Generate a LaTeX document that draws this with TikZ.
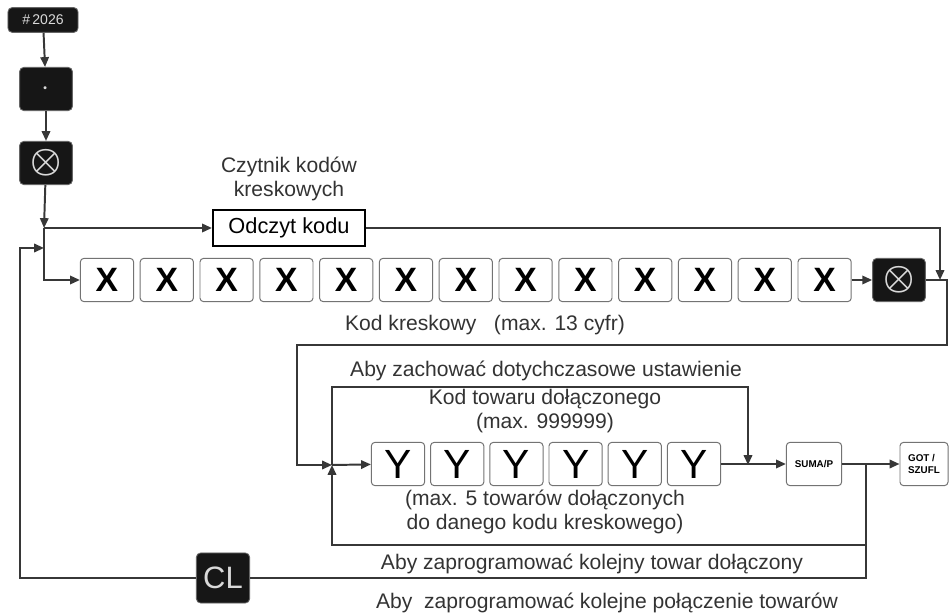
\documentclass[tikz,border=0pt]{standalone}
\usepackage{amsmath}
\usepackage{fontspec}
\setmainfont{Liberation Sans}
\usetikzlibrary{positioning, arrows.meta}
\definecolor{keyblack}{RGB}{22, 22, 22}
\definecolor{wiregray}{RGB}{55, 55, 55}
\tikzset{
  % black key of the keyboard
  key/.style={
    rectangle, rounded corners=3pt,
    minimum width=1.32cm, minimum height=1.08cm,
    fill=keyblack, draw=black!60, line width=0.6pt,
    text=white!85!black, inner sep=0pt
  },
  % white digit / function key
  digit/.style={
    rectangle, rounded corners=2.5pt,
    minimum width=1.33cm, minimum height=1.08cm,
    fill=white, draw=black!55, line width=0.7pt, inner sep=0pt
  },
  % plain text
  lbl/.style={font=\fontsize{15}{17}\selectfont, text=black!80, align=center, inner sep=0pt},
  % lines and arrows
  wire/.style={line width=1.4pt, draw=wiregray},
  arr/.style={wire, -{Triangle[length=7pt, width=6pt]}},
}

\begin{document}
\begin{tikzpicture}[x=0.025cm, y=-0.025cm]
  \useasboundingbox (0,0) rectangle (949,615);

  % entry keys
  \node[key, minimum width=1.75cm, minimum height=0.62cm,
        font=\fontsize{10}{10}\selectfont] (n2026) at (43,20) {\#\,2026};
  \node[key, font=\fontsize{20}{20}\selectfont] (kdot) at (46,89) {$\cdot$};
  \node[key, font=\fontsize{24}{24}\selectfont] (kx1) at (46,163) {$\boldsymbol{\otimes}$};

  % barcode reader
  \node[rectangle, draw=black, line width=1.5pt, minimum width=3.8cm,
        minimum height=0.92cm, font=\fontsize{15.5}{18}\selectfont] (odczyt) at (289,228) {Odczyt kodu};
  \node[lbl] (czytnik) at (289,179) {Czytnik kodów\\kreskowych};

  % barcode digits
  \node[digit, font=\fontsize{24}{24}\selectfont\bfseries] (x1) at (107,280) {X};
  \foreach \i [remember=\i as \j (initially 1)] in {2,...,13}
    \node[digit, font=\fontsize{24}{24}\selectfont\bfseries, right=0.14cm of x\j] (x\i) {X};
  \node[key, font=\fontsize{24}{24}\selectfont] (kx2) at (899,280) {$\boldsymbol{\otimes}$};
  \node[lbl] (kodkr) at (485,325) {Kod kreskowy\ \ \ (max. 13 cyfr)};

  % linked goods digits
  \node[digit, font=\fontsize{29}{29}\selectfont] (y1) at (398,464) {Y};
  \foreach \i [remember=\i as \j (initially 1)] in {2,...,6}
    \node[digit, font=\fontsize{29}{29}\selectfont, right=0.125cm of y\j] (y\i) {Y};
  \node[digit, minimum width=1.38cm, font=\fontsize{7}{8}\selectfont\bfseries] (suma) at (814,464) {SUMA/P};
  \node[digit, minimum width=1.2cm, font=\fontsize{7}{8}\selectfont\bfseries,
        align=left] (got) at (924,464) {GOT /\\SZUFL};

  \node[lbl] (zachowac) at (546,371) {Aby zachować dotychczasowe ustawienie};
  \node[lbl] (kodtow) at (545,411) {Kod towaru dołączonego\\(max. 999999)};
  \node[lbl] (max5) at (545,512) {(max. 5 towarów dołączonych\\do danego kodu kreskowego)};
  \node[lbl] (kolejny) at (592,564) {Aby zaprogramować kolejny towar dołączony};
  \node[lbl] (kolejne) at (607,603) {Aby\ \ zaprogramować kolejne połączenie towarów};

  % junctions
  \coordinate (j1) at (44,228);
  \coordinate (j1b) at (44,248);
  \coordinate (r1) at (940,280);
  \coordinate (r2) at (947,280);
  \coordinate (r3) at (297,345);
  \coordinate (j2) at (332,465);
  \coordinate (s2) at (748,465);
  \coordinate (j3) at (866,465);
  \coordinate (j4) at (866,545);

  % connectors
  \draw[arr] (n2026) -- (kdot);
  \draw[arr] (kdot) -- (kx1);
  \draw[arr] (kx1) -- (j1);
  \draw[arr] (j1) -- (odczyt);
  \draw[arr] (j1) |- (x1);
  \draw[arr] (odczyt) -| (r1);
  \draw[arr] (x13) -- (kx2);
  \draw[arr] (kx2) -- (r2) |- (r3) |- (j2);
  \draw[arr] (j2) -- (y1);
  \draw[arr] (j2) -- (332,387) -| (s2);
  \draw[arr] (y6) -- (suma);
  \draw[arr] (suma) -- (got);
  \draw[arr] (j4) -| (j2);

  % back to the start with CL
  \node[key, minimum width=1.33cm, minimum height=1.25cm,
        font=\fontsize{22}{22}\selectfont] (cl) at (223,578) {CL};
  \draw[wire] (j3) |- (cl);
  \draw[arr] (cl) -| (20,248) -- (j1b);
\end{tikzpicture}
\end{document}
